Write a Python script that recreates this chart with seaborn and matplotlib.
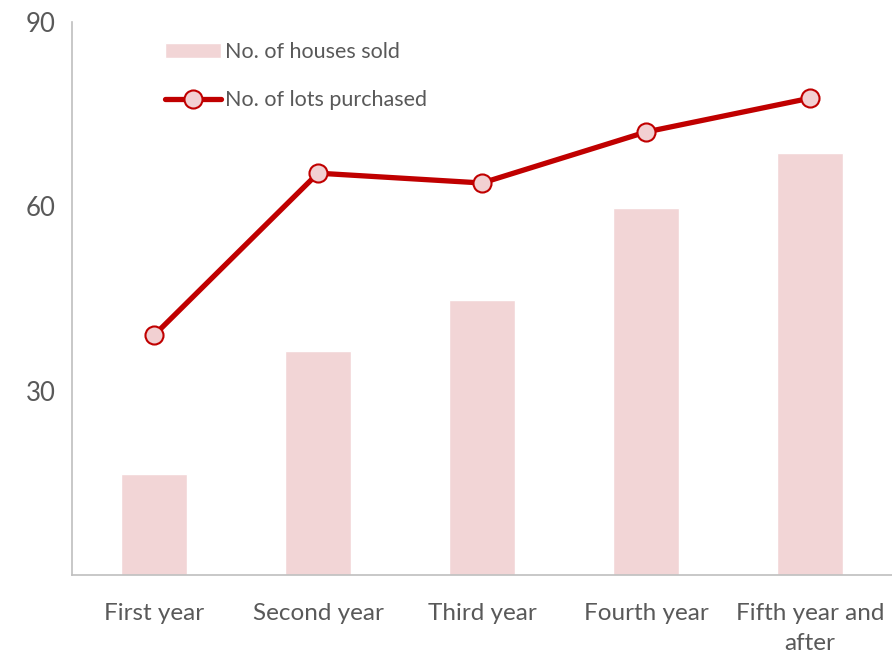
import matplotlib
matplotlib.use("Agg")
import matplotlib.pyplot as plt
import seaborn as sns
import pandas as pd

# data
years = ["First year", "Second year", "Third year", "Fourth year", "Fifth year and\nafter"]
houses_sold = [16.5, 36.5, 44.7, 59.7, 68.7]
lots_purchased = [39.0, 65.4, 63.8, 72.1, 77.6]

df = pd.DataFrame({"year": years, "houses": houses_sold, "lots": lots_purchased})

sns.set_style("white")
plt.rcParams['font.family'] = ['Lato', 'DejaVu Sans']

fig = plt.figure(figsize=(8.92, 6.57), dpi=100)
ax = fig.add_axes([0.0807, 0.1248, 0.9193, 0.8417])

sns.barplot(data=df, x="year", y="houses", color="#F2D5D6", saturation=1, width=0.4,
            label="No. of houses sold", ax=ax)
sns.pointplot(data=df, x="year", y="lots", color="#C00000", markers="o",
              linewidth=3.8, markersize=13, markerfacecolor="#F2D0D2",
              markeredgecolor="#C00000", markeredgewidth=1.5,
              label="No. of lots purchased", ax=ax)

ax.set_ylim(0, 90)
ax.set_xlim(-0.5, 4.5)
ax.set_yticks([30, 60, 90])
ax.set_xlabel("")
ax.set_ylabel("")
ax.tick_params(axis="y", labelsize=18.5, colors="#595959", length=0, pad=12)
ax.tick_params(axis="x", labelsize=17.5, colors="#595959", length=0, pad=20)
for t in ax.get_xticklabels():
    t.set_linespacing(1.55)

for s in ["top", "right"]:
    ax.spines[s].set_visible(False)
for s in ["left", "bottom"]:
    ax.spines[s].set_color("#BFBFBF")
    ax.spines[s].set_linewidth(1.2)

handles, labels = ax.get_legend_handles_labels()
order = [labels.index("No. of houses sold"), labels.index("No. of lots purchased")]
ax.legend([handles[i] for i in order], [labels[i] for i in order],
          loc="upper left", bbox_to_anchor=(0.09, 0.998), frameon=False,
          fontsize=15.5, handlelength=2.6, handletextpad=0.2, labelspacing=1.3,
          labelcolor="#595959")

fig.savefig("out.png", dpi=100)
